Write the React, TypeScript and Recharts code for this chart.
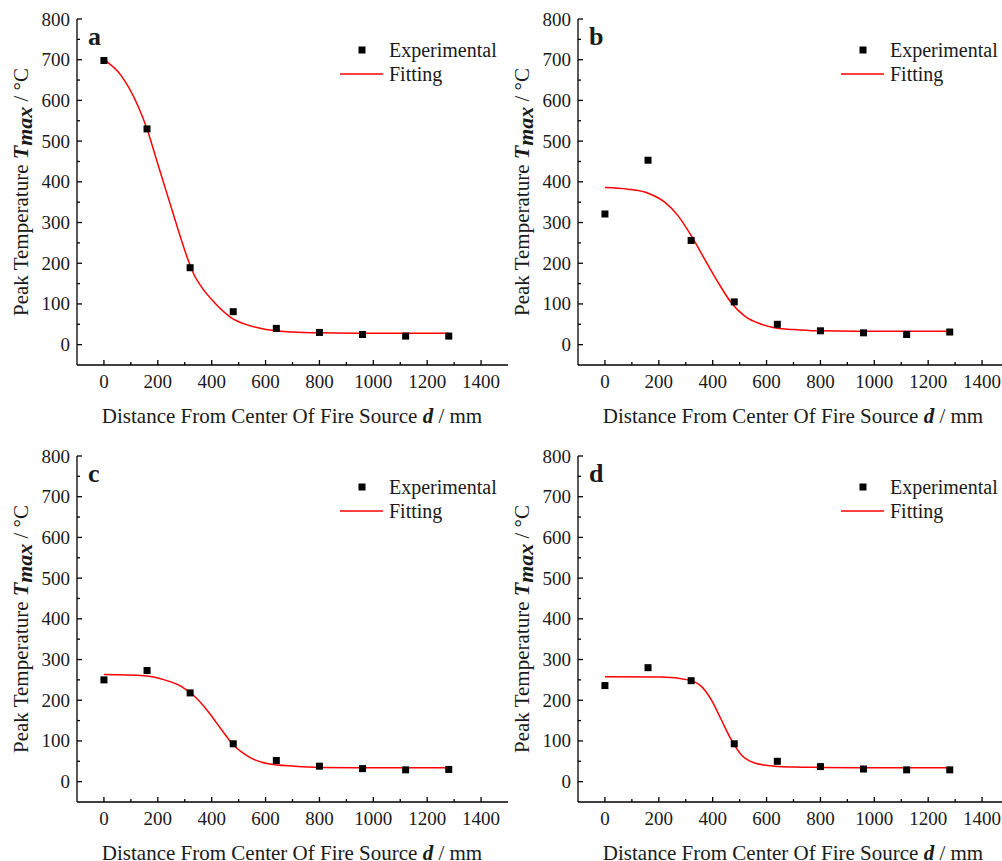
import { ComposedChart, Scatter, Line, XAxis, YAxis } from 'recharts'

const FONT = 'Liberation Serif, DejaVu Serif, Times New Roman, serif'
const INK = '#1a1a1a'

// distances of the thermocouples from the fire source (mm)
const distances = [0, 160, 320, 480, 640, 800, 960, 1120, 1280]

// measured peak temperatures (°C)
const expA = [698, 530, 189, 81, 40, 30, 25, 21, 21]
const expB = [321, 453, 256, 105, 50, 34, 29, 25, 31]
const expC = [250, 273, 218, 93, 52, 38, 32, 29, 30]
const expD = [236, 280, 248, 93, 50, 37, 31, 29, 29]

// fitted curves
const fitXA = [0, 64, 126, 160, 194, 225, 262, 290, 305, 318, 335, 362, 411, 473, 535, 597, 700, 800, 1000, 1280]
const fitYA = [700, 661, 587, 530, 457, 390, 311, 252, 222, 198, 171, 142, 103, 66, 48, 38, 31, 29, 28, 28]
const fitXB = [0, 85, 160, 222, 271, 321, 370, 420, 469, 519, 581, 655, 704, 800, 1000, 1280]
const fitYB = [386, 382, 372, 350, 317, 267, 210, 153, 103, 70, 50, 39, 37, 34, 33, 33]
const fitXC = [0, 151, 225, 287, 337, 386, 436, 479, 535, 609, 708, 800, 1000, 1280]
const fitYC = [263, 260, 250, 234, 209, 173, 128, 91, 62, 44, 38, 35, 34, 34]
const fitXD = [0, 209, 308, 358, 395, 432, 469, 506, 556, 630, 704, 800, 1000, 1280]
const fitYD = [258, 257, 250, 234, 201, 152, 103, 66, 46, 38, 36, 35, 34, 34]

const xMajor = [0, 200, 400, 600, 800, 1000, 1200, 1400]
const xMinor = [100, 300, 500, 700, 900, 1100, 1300]
const yMajor = [0, 100, 200, 300, 400, 500, 600, 700, 800]
const yMinor = [50, 150, 250, 350, 450, 550, 650, 750]

const xTicks = [...xMajor, ...xMinor].sort((a, b) => a - b)
const yTicks = [...yMajor, ...yMinor].sort((a, b) => a - b)

const axisStyle = { stroke: '#000', strokeWidth: 1.3 }

function XTick({ x, y, payload }: any) {
  const major = xMajor.includes(payload.value)
  return (
    <g>
      <line x1={x} x2={x} y1={y} y2={y - (major ? 5 : 3)} stroke="#000" strokeWidth={1.3} />
      {major && (
        <text x={x} y={y + 23} textAnchor="middle" fontSize={19} fontFamily={FONT} fill={INK}>
          {payload.value}
        </text>
      )}
    </g>
  )
}

function YTick({ x, y, payload }: any) {
  const major = yMajor.includes(payload.value)
  return (
    <g>
      <line x1={x} x2={x + (major ? 5 : 3)} y1={y} y2={y} stroke="#000" strokeWidth={1.3} />
      {major && (
        <text x={x - 7} y={y + 6.5} textAnchor="end" fontSize={19} fontFamily={FONT} fill={INK}>
          {payload.value}
        </text>
      )}
    </g>
  )
}

function Square({ cx, cy }: any) {
  return <rect x={cx - 3.5} y={cy - 3.5} width={7} height={7} fill="#000" />
}

interface PanelProps {
  letter: string
  exp: number[]
  fitX: number[]
  fitY: number[]
  left: number
  top: number
}

function Panel({ letter, exp, fitX, fitY, left, top }: PanelProps) {
  const expData = distances.map((d, i) => ({ x: d, y: exp[i] }))
  const fitData = fitX.map((d, i) => ({ x: d, y: fitY[i] }))

  return (
    <div style={{ position: 'absolute', left, top, width: 520, height: 430, fontFamily: FONT }}>
      <ComposedChart width={520} height={430} margin={{ top: 19, right: 12, bottom: 0, left: 0 }}>
        <XAxis
          type="number"
          dataKey="x"
          domain={[-100, 1500]}
          ticks={xTicks}
          interval={0}
          tickSize={0}
          tickMargin={0}
          tickLine={false}
          tick={XTick}
          height={65}
          axisLine={axisStyle}
          allowDataOverflow
        />
        <XAxis
          xAxisId="top"
          orientation="top"
          type="number"
          dataKey="x"
          domain={[-100, 1500]}
          height={0}
          tick={false}
          tickLine={false}
          axisLine={axisStyle}
        />
        <YAxis
          type="number"
          dataKey="y"
          domain={[-50, 800]}
          ticks={yTicks}
          interval={0}
          tickSize={0}
          tickMargin={0}
          tickLine={false}
          tick={YTick}
          width={77}
          axisLine={axisStyle}
          allowDataOverflow
        />
        <YAxis
          yAxisId="right"
          orientation="right"
          type="number"
          dataKey="y"
          domain={[-50, 800]}
          width={0}
          tick={false}
          tickLine={false}
          axisLine={axisStyle}
        />
        <Line
          data={fitData}
          dataKey="y"
          type="monotone"
          stroke="#ff0000"
          strokeWidth={1.5}
          dot={false}
          activeDot={false}
          isAnimationActive={false}
        />
        <Scatter data={expData} dataKey="y" shape={Square} isAnimationActive={false} />
      </ComposedChart>

      <svg
        width={520}
        height={430}
        style={{ position: 'absolute', left: 0, top: 0, pointerEvents: 'none' }}
        fontFamily={FONT}
      >
        <text x={88} y={45} fontSize={26} fontWeight="bold" fill={INK}>
          {letter}
        </text>

        <rect x={358.5} y={46.5} width={7} height={7} fill="#000" />
        <text x={389} y={57} fontSize={20} fill={INK}>
          Experimental
        </text>
        <line x1={340} x2={383} y1={74} y2={74} stroke="#ff0000" strokeWidth={1.5} />
        <text x={389} y={81} fontSize={20} fill={INK}>
          Fitting
        </text>

        <text x={292} y={423} textAnchor="middle" fontSize={21} fill={INK}>
          Distance From Center Of Fire Source{' '}
          <tspan fontWeight="bold" fontStyle="italic">
            d
          </tspan>{' '}
          / mm
        </text>

        <text transform="translate(28,192) rotate(-90)" textAnchor="middle" fontSize={21} fill={INK}>
          Peak Temperature{' '}
          <tspan fontWeight="bold" fontStyle="italic" fontSize={22}>
            T
          </tspan>
          <tspan fontWeight="bold" fontStyle="italic" fontSize={22} dy={4}>
            max
          </tspan>
          <tspan dy={-4}> / °C</tspan>
        </text>
      </svg>
    </div>
  )
}

export default function App() {
  return (
    <div
      style={{
        position: 'absolute',
        left: 0,
        top: 0,
        width: 1002,
        height: 861,
        overflow: 'hidden',
        background: '#fff',
      }}
    >
      <Panel letter="a" exp={expA} fitX={fitXA} fitY={fitYA} left={0} top={0} />
      <Panel letter="b" exp={expB} fitX={fitXB} fitY={fitYB} left={501} top={0} />
      <Panel letter="c" exp={expC} fitX={fitXC} fitY={fitYC} left={0} top={437} />
      <Panel letter="d" exp={expD} fitX={fitXD} fitY={fitYD} left={501} top={437} />
    </div>
  )
}
